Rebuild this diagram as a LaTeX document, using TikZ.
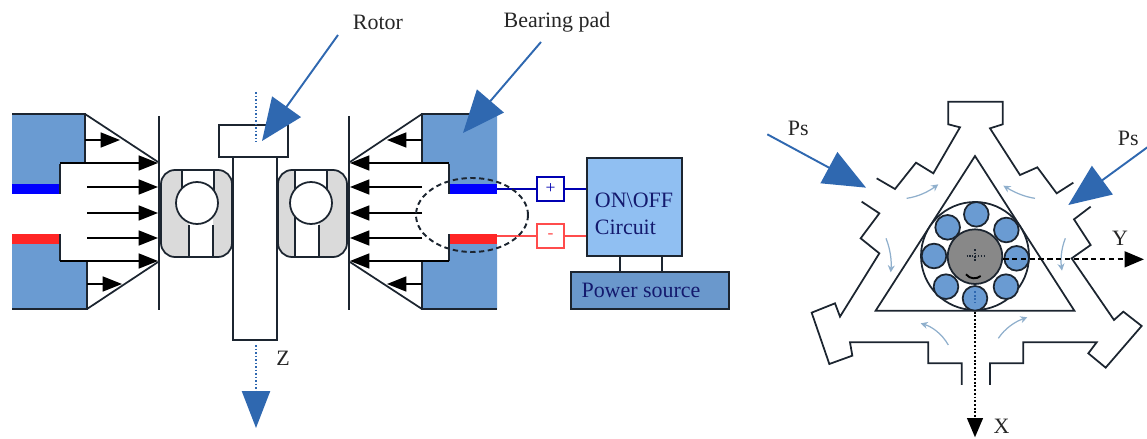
\documentclass[tikz,border=0pt]{standalone}
\usepackage{fontspec}
\setmainfont{Liberation Serif}
\usepackage{tikz}
\usetikzlibrary{arrows.meta}

\definecolor{padblue}{HTML}{6A9BD2}
\definecolor{callblue}{HTML}{2F68B0}
\definecolor{boxblue}{HTML}{90BFF2}
\definecolor{srcblue}{HTML}{6A98CC}
\definecolor{bargrey}{HTML}{DADADA}
\definecolor{rotorgrey}{HTML}{888888}
\definecolor{flowblue}{HTML}{8FAFCC}
\definecolor{linedark}{HTML}{1C2530}

\tikzset{
  body/.style={draw=linedark, line width=1pt},
  force/.style={draw=black, line width=1pt, -{Triangle[length=11pt,width=8.5pt]}},
  callout/.style={draw=callblue, line width=1.1pt, -{Triangle[length=24pt,width=20pt]}},
  axis/.style={draw=black, line width=1.1pt, densely dashed, -{Triangle[length=11pt,width=9pt]}},
  flow/.style={draw=flowblue, line width=0.7pt, -{Stealth[length=4pt,width=4pt]}},
  label/.style={font=\fontsize{12.5}{14}\selectfont, text=black!85, inner sep=0pt},
  signbox/.style={draw, fill=white, line width=1pt, minimum width=15pt, minimum height=13.5pt, inner sep=0pt, font=\normalsize},
  ball/.style={draw=linedark, fill=padblue, line width=1pt}
}

\begin{document}
\begin{tikzpicture}[x=0.02cm, y=-0.02cm]

    \useasboundingbox (0,0) rectangle (1147,439);

    % Left pad
    \fill[padblue] (12,114) -- (85,114) -- (85,164) -- (60,164) -- (60,184) -- (12,184) -- cycle;
    \fill[padblue] (12,244) -- (60,244) -- (60,261) -- (87,261) -- (87,309) -- (12,309) -- cycle;
    \fill[blue] (12,184) rectangle (60,194);
    \fill[red!85!white] (12,234) rectangle (60,244);
    \draw[body] (12,114) -- (85,114) -- (85,164);
    \draw[body] (12,309) -- (87,309) -- (87,261);
    \draw[body] (60,194) -- (60,164);
    \draw[body] (60,234) -- (60,261);

    % Left film wedge and wall
    \draw[body] (85,114) -- (158,162);
    \draw[body] (87,309) -- (158,262);
    \draw[body] (159,116) -- (159,310);

    % Left pressure arrows
    \draw[force] (85,140) -- (120,140);
    \draw[force] (60,163) -- (158,163);
    \foreach \yy in {187,213,238} {
        \draw[force] (87,\yy) -- (158,\yy);
    }
    \draw[force] (60,261) -- (158,261);
    \draw[force] (87,284) -- (122,284);

    % Right pad
    \fill[padblue] (422,114) -- (497,114) -- (497,184) -- (449,184) -- (449,164) -- (422,164) -- cycle;
    \fill[padblue] (449,244) -- (497,244) -- (497,309) -- (422,309) -- (422,261) -- (449,261) -- cycle;
    \fill[blue] (449,184) rectangle (497,194);
    \fill[red!85!white] (449,234) rectangle (497,244);
    \draw[body] (497,114) -- (422,114) -- (422,164);
    \draw[body] (497,309) -- (422,309) -- (422,261);
    \draw[body] (449,194) -- (449,164);
    \draw[body] (449,234) -- (449,261);

    % Right film wedge and wall
    \draw[body] (422,114) -- (350,162);
    \draw[body] (422,309) -- (350,262);
    \draw[body] (349,116) -- (349,310);

    % Right pressure arrows
    \draw[force] (422,140) -- (387,140);
    \draw[force] (449,163) -- (350,163);
    \foreach \yy in {187,213,238} {
        \draw[force] (422,\yy) -- (350,\yy);
    }
    \draw[force] (449,261) -- (350,261);
    \draw[force] (422,284) -- (387,284);

    % Left bearing
    \draw[body, fill=bargrey, rounded corners=8] (161,170) rectangle (232,257);
    \fill[white] (182,171) rectangle (214,203);
    \fill[white] (189,203) rectangle (213,256);
    \draw[body] (182,170) -- (182,195);
    \draw[body] (214,170) -- (214,195);
    \draw[body] (189,225) -- (189,257);
    \draw[body] (213,225) -- (213,257);
    \draw[body, fill=white] (197,203) circle (21);

    % Right bearing
    \draw[body, fill=bargrey, rounded corners=8] (278,170) rectangle (347,257);
    \fill[white] (295,171) rectangle (327,203);
    \fill[white] (295,203) rectangle (319,256);
    \draw[body] (295,170) -- (295,257);
    \draw[body] (327,170) -- (327,195);
    \draw[body] (319,225) -- (319,257);
    \draw[body, fill=white] (311,203) circle (21);

    % Rotor
    \draw[body, fill=white] (233,157) rectangle (277,340);
    \draw[body, fill=white] (219,125) rectangle (288,157);

    % Z axis
    \draw[callblue, line width=1pt, densely dotted] (256,92) -- (256,142);
    \draw[callblue, line width=1pt, densely dotted, -{Triangle[length=21pt,width=16pt]}] (256,345) -- (256,428);
    \node[label] (zlabel) at (283,358) {Z};

    % Labels with their arrows
    \node[label] (rotorlabel) at (378,22) {Rotor};
    \coordinate (rotortail) at (338,35);
    \coordinate (rotortip) at (262,141);
    \draw[callout] (rotortail) -- (rotortip);
    \node[label] (padlabel) at (557,22) {Bearing pad};
    \coordinate (padtail) at (541,42);
    \coordinate (padtip) at (463,133);
    \draw[callout] (padtail) -- (padtip);

    % Circuit
    \node[draw=linedark, fill=boxblue, line width=1.1pt, minimum width=54pt, minimum height=55.5pt, inner sep=0pt] (circuit) at (634.5,207) {};
    \node[label, text=linedark!70!blue, align=left, font=\fontsize{12.5}{15.3}\selectfont] (circuittext) at (634,214) {ON\textbackslash OFF\\Circuit};
    \node[draw=linedark, fill=srcblue, line width=1.1pt, minimum width=89.5pt, minimum height=21pt, inner sep=0pt] (source) at (650,290.5) {};
    \node[label, text=linedark!70!blue] (sourcetext) at (641,290) {Power source};
    \node[signbox, draw=blue!70!black, text=blue!70!black] (plus) at (550.5,189) {+};
    \node[signbox, draw=red!70!white, text=red!70!white] (minus) at (550.5,236) {-};
    \coordinate (plusbar) at (497,189);
    \coordinate (minusbar) at (497,236);
    \draw[blue!70!black, line width=1pt] (plusbar) -- (plus);
    \draw[blue!70!black, line width=1pt] (plus) -- (plus -| circuit.west);
    \draw[red!70!white, line width=1pt] (minusbar) -- (minus);
    \draw[red!70!white, line width=1pt] (minus) -- (minus -| circuit.west);
    \draw[body] (620,256) -- (620,272);
    \draw[body] (662,256) -- (662,272);

    % Dashed region over the pad gap
    \draw[linedark, line width=1.1pt, densely dashed] (472,215) ellipse (56 and 37);

    % Top view, in its own frame
    \begin{scope}[shift={(760,90)}, scale=1/3]

        % Housing outline
        \draw[body] (350,265) -- (405,297) -- (468,218) -- (520,250) -- (600,112) -- (565,103) -- (565,35)
            -- (728,35) -- (728,103) -- (690,115) -- (780,255) -- (832,232) -- (890,310) -- (940,278);
        \draw[body] (305,335) -- (358,370) -- (302,445) -- (358,490) -- (240,680) -- (225,640) -- (155,668)
            -- (208,822) -- (277,797) -- (270,757) -- (505,757) -- (505,820) -- (605,820) -- (605,885);
        \draw[body] (992,350) -- (942,388) -- (992,465) -- (935,505) -- (1062,690) -- (1090,665) -- (1145,708)
            -- (1037,833) -- (985,790) -- (1010,757) -- (790,757) -- (790,820) -- (690,820) -- (690,885);

        % Inner triangle
        \draw[body] (645,198) -- (943,662) -- (347,662) -- cycle;

        % Bearing with balls
        \draw[body, fill=white] (645,498) circle (162);
        \foreach \xx/\yy in {649/373, 563/412, 739/420, 522/498, 770/505, 558/590, 738/590, 645/625} {
            \draw[ball] (\xx,\yy) circle (37);
        }
        \draw[draw=linedark, fill=rotorgrey, line width=1pt] (645,500) circle (82);

        % Marks on the shaft
        \draw[linedark, line width=0.6pt, densely dotted] (620,498) -- (672,498);
        \draw[linedark, line width=0.9pt, densely dotted] (645,478) -- (645,515);
        \draw[black, line width=1.1pt] (618,553) .. controls (630,568) and (650,568) .. (662,558);
        \draw[callblue, line width=1.1pt, densely dotted] (645,603) -- (645,640);

        % Film flow
        \draw[flow] (440,325) .. controls (475,320) and (505,305) .. (535,283);
        \draw[flow] (825,325) .. controls (790,320) and (760,305) .. (730,287);
        \draw[flow] (378,445) .. controls (392,480) and (395,515) .. (392,547);
        \draw[flow] (916,445) .. controls (902,480) and (902,515) .. (906,542);
        \draw[flow] (565,765) .. controls (545,730) and (515,710) .. (482,700);
        \draw[flow] (715,745) .. controls (735,715) and (765,695) .. (802,682);

        % Supply arrows
        \node[label] (psleft) at (115,115) {Ps};
        \node[label] (psright) at (1105,145) {Ps};
        \coordinate (pslefttail) at (22,133);
        \coordinate (pslefttip) at (318,293);
        \coordinate (psrighttail) at (1162,172);
        \coordinate (psrighttip) at (925,345);
        \draw[callout] (pslefttail) -- (pslefttip);
        \draw[callout] (psrighttail) -- (psrighttip);

        % X and Y axes
        \draw[axis] (730,508) -- (1152,508);
        \node[label] (ylabel) at (1080,445) {Y};
        \draw[axis, densely dotted] (645,665) -- (645,1042);
        \node[label] (xlabel) at (725,1010) {X};
    \end{scope}

\end{tikzpicture}
\end{document}
